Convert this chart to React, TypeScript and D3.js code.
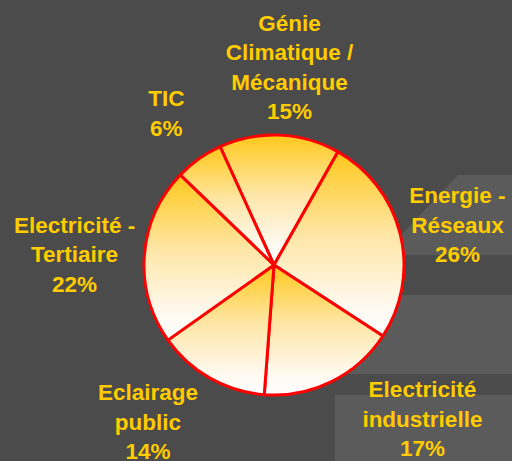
import React from 'react';
import * as d3 from 'd3';

// data
const categories = ['Génie Climatique / Mécanique', 'Energie - Réseaux', 'Electricité industrielle', 'Eclairage public', 'Electricité - Tertiaire', 'TIC'];
const labelLines = [['Génie', 'Climatique /', 'Mécanique'], ['Energie -', 'Réseaux'], ['Electricité', 'industrielle'], ['Eclairage', 'public'], ['Electricité -', 'Tertiaire'], ['TIC']];
const shares = [15, 26, 17, 14, 22, 6];
// small nudges of each label from its centroid, as in the original layout
const labelNudge = [[7, -3], [-6, 6], [62, -21], [-30, -13], [-5, 4], [5, 7]];

const W = 512;
const H = 461;
const cx = 274;
const cy = 265;
const radius = 130;
const labelRadius = 195;
const lineH = 29.5;

const App = () => {
    const pie = d3.pie<number>()
        .sort(null)
        .value(d => d)
        .startAngle(-24.5 * Math.PI / 180)
        .endAngle((360 - 24.5) * Math.PI / 180);
    const arcs = pie(shares);

    const arc = d3.arc<d3.PieArcDatum<number>>().innerRadius(0).outerRadius(radius);
    const labelArc = d3.arc<d3.PieArcDatum<number>>().innerRadius(labelRadius).outerRadius(labelRadius);

    return (
        <div style={{ position: 'fixed', left: 0, top: 0 }}>
            <svg width={W} height={H} style={{ display: 'block' }}>
                <defs>
                    <linearGradient id="sliceFill" x1="0" y1="0" x2="0" y2="1">
                        <stop offset="0" stopColor="#ffc81a" />
                        <stop offset="0.45" stopColor="#ffe6a6" />
                        <stop offset="0.85" stopColor="#fffaf2" />
                        <stop offset="1" stopColor="#ffffff" />
                    </linearGradient>
                </defs>
                {/* background with the lighter steps on the right */}
                <rect width={W} height={H} fill="#4b4b4b" />
                <polygon points="458,175 512,175 512,255 382,255" fill="#5b5b5b" />
                <rect x={330} y={295} width={W - 330} height={79} fill="#5b5b5b" />
                <rect x={335} y={395} width={W - 335} height={H - 395} fill="#5b5b5b" />

                <g transform={`translate(${cx},${cy})`}>
                    {arcs.map((a, i) => (
                        <path key={categories[i]} d={arc(a) ?? ''} fill="url(#sliceFill)"
                              stroke="#ff0000" strokeWidth={3} strokeLinejoin="round" />
                    ))}
                </g>

                <g fontFamily="'Liberation Sans', Arial, sans-serif" fontWeight="bold" fontSize={22.5}
                   fill="#ffcc00" textAnchor="middle">
                    {arcs.map((a, i) => {
                        const [lx, ly] = labelArc.centroid(a);
                        const x = cx + lx + labelNudge[i][0];
                        const y = cy + ly + labelNudge[i][1];
                        const lines = [...labelLines[i], `${shares[i]}%`];
                        const first = y - (lines.length - 1) * lineH / 2 + 8;
                        return (
                            <text key={categories[i]} x={x} y={first}>
                                {lines.map((t, j) => (
                                    <tspan key={j} x={x} y={first + j * lineH}>{t}</tspan>
                                ))}
                            </text>
                        );
                    })}
                </g>
            </svg>
        </div>
    );
};

export default App;
